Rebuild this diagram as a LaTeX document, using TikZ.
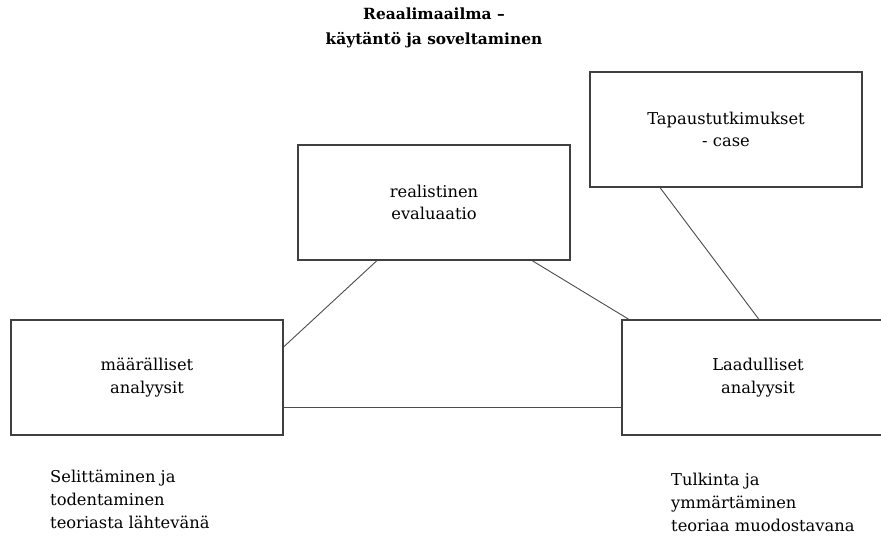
\documentclass[tikz,border=0pt]{standalone}
\usepackage{fontspec}
\setmainfont{DejaVu Serif}
\begin{document}
\begin{tikzpicture}[x=1pt,y=-1pt,
  box/.style={draw=black!75,line width=1.1pt,rectangle,inner sep=0pt,align=center,
    font=\fontsize{16.3}{22.5}\selectfont},
  link/.style={draw=black!70,line width=0.9pt},
  note/.style={align=left,anchor=west,inner sep=0pt,
    font=\fontsize{16.3}{23}\selectfont},
  title/.style={align=center,inner sep=0pt,font=\bfseries\fontsize{15.4}{25}\selectfont}]
\useasboundingbox (0,0) rectangle (881,536);
\clip (0,0) rectangle (881,536);

\node[title] (otsikko) at (434,28) {Reaalimaailma –\\käytäntö ja soveltaminen};

\node[box,minimum width=272pt,minimum height=115pt] (case) at (726,129.5) {Tapaustutkimukset\\- case};
\node[box,minimum width=272pt,minimum height=115pt] (real) at (434,202.5) {realistinen\\evaluaatio};
\node[box,minimum width=272pt,minimum height=115pt] (maara) at (147,377.5) {määrälliset\\analyysit};
\node[box,minimum width=272pt,minimum height=115pt] (laatu) at (758,377.5) {Laadulliset\\analyysit};

\coordinate (m1) at (maara.east |- 0,347);
\coordinate (m2) at (maara.east |- 0,407);
\coordinate (r1) at (377,0 |- real.south);
\coordinate (r2) at (532,0 |- real.south);
\coordinate (l1) at (629,0 |- laatu.north);
\coordinate (l2) at (759,0 |- laatu.north);
\coordinate (l3) at (laatu.west |- 0,407);
\coordinate (c1) at (660,0 |- case.south);

\draw[link] (m1) -- (r1);
\draw[link] (r2) -- (l1);
\draw[link] (c1) -- (l2);
\draw[link] (m2) -- (l3);

\node[note] (selitys) at (50,499) {Selittäminen ja\\todentaminen\\teoriasta lähtevänä};
\node[note] (tulkinta) at (671,502) {Tulkinta ja\\ymmärtäminen\\teoriaa muodostavana};
\end{tikzpicture}
\end{document}
